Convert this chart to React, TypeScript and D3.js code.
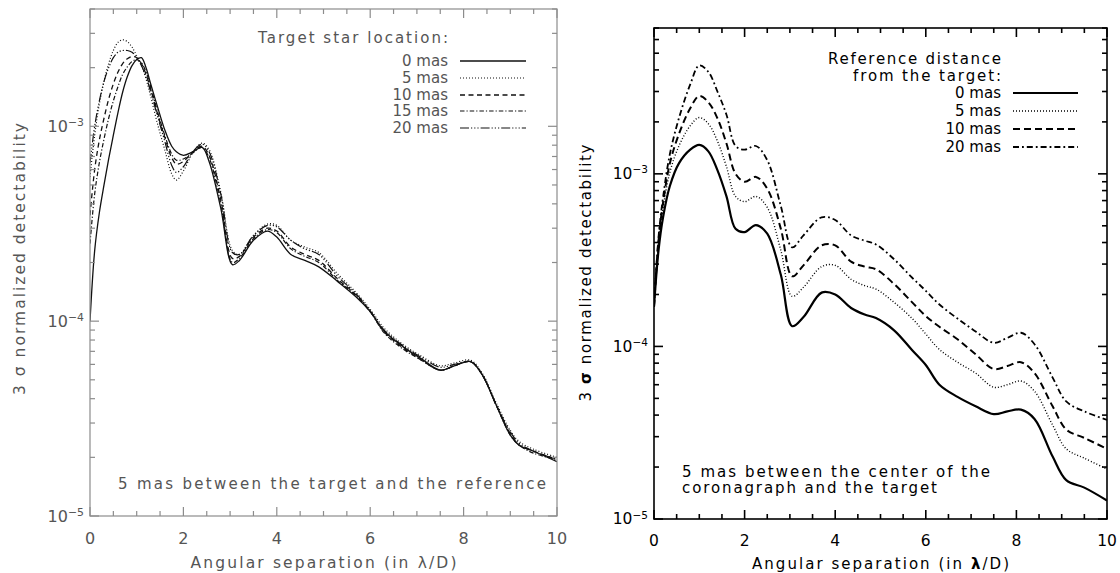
import { useEffect, useRef } from 'react';
import * as d3 from 'd3';

// Left panel: target star location varies, 5 mas between target and reference
const leftX = [0, 0.1, 0.2, 0.3, 0.4, 0.5, 0.6, 0.7, 0.8, 0.9, 1.0, 1.1, 1.2, 1.3, 1.45, 1.6, 1.75, 1.85, 2.0, 2.2, 2.4, 2.55, 2.8, 3.05, 3.2, 3.5, 3.8, 4.0, 4.3, 4.6, 4.9, 5.3, 5.7, 6.0, 6.3, 6.7, 7.1, 7.5, 7.8, 8.15, 8.4, 8.7, 9.0, 9.2, 9.5, 10];
const left0mas = [1.0e-4, 2.3e-4, 3.6e-4, 5.0e-4, 6.8e-4, 9.0e-4, 1.18e-3, 1.5e-3, 1.8e-3, 2.05e-3, 2.2e-3, 2.25e-3, 2.0e-3, 1.65e-3, 1.25e-3, 9.6e-4, 7.9e-4, 7.4e-4, 7.1e-4, 7.4e-4, 7.8e-4, 6.6e-4, 3.8e-4, 1.95e-4, 2.05e-4, 2.6e-4, 2.9e-4, 2.7e-4, 2.2e-4, 2.05e-4, 1.9e-4, 1.6e-4, 1.33e-4, 1.12e-4, 8.9e-5, 7.4e-5, 6.4e-5, 5.6e-5, 5.9e-5, 6.2e-5, 5.3e-5, 3.7e-5, 2.6e-5, 2.3e-5, 2.15e-5, 1.9e-5];
const left5mas = [5.5e-4, 9.0e-4, 1.3e-3, 1.7e-3, 2.1e-3, 2.45e-3, 2.7e-3, 2.78e-3, 2.72e-3, 2.55e-3, 2.3e-3, 2.05e-3, 1.75e-3, 1.42e-3, 1.02e-3, 7.6e-4, 5.7e-4, 5.3e-4, 5.9e-4, 7.3e-4, 8.2e-4, 7.6e-4, 4.6e-4, 2.3e-4, 2.2e-4, 2.75e-4, 3.15e-4, 3.1e-4, 2.6e-4, 2.4e-4, 2.25e-4, 1.75e-4, 1.4e-4, 1.15e-4, 9.2e-5, 7.6e-5, 6.6e-5, 5.9e-5, 6.1e-5, 6.3e-5, 5.4e-5, 3.8e-5, 2.75e-5, 2.4e-5, 2.2e-5, 2.0e-5];
const left10mas = [3.5e-4, 6.0e-4, 8.5e-4, 1.1e-3, 1.38e-3, 1.65e-3, 1.9e-3, 2.1e-3, 2.22e-3, 2.28e-3, 2.25e-3, 2.1e-3, 1.85e-3, 1.55e-3, 1.15e-3, 8.8e-4, 6.9e-4, 6.4e-4, 6.6e-4, 7.4e-4, 7.9e-4, 7.1e-4, 4.2e-4, 2.1e-4, 2.15e-4, 2.7e-4, 3.0e-4, 2.9e-4, 2.4e-4, 2.2e-4, 2.05e-4, 1.65e-4, 1.36e-4, 1.12e-4, 8.8e-5, 7.3e-5, 6.3e-5, 5.6e-5, 5.9e-5, 6.2e-5, 5.3e-5, 3.7e-5, 2.65e-5, 2.3e-5, 2.15e-5, 1.95e-5];
const left15mas = [2.5e-4, 4.5e-4, 6.5e-4, 8.6e-4, 1.1e-3, 1.35e-3, 1.6e-3, 1.85e-3, 2.02e-3, 2.15e-3, 2.2e-3, 2.12e-3, 1.9e-3, 1.6e-3, 1.18e-3, 9.0e-4, 7.2e-4, 6.7e-4, 6.8e-4, 7.3e-4, 7.8e-4, 6.9e-4, 4.0e-4, 2.0e-4, 2.1e-4, 2.65e-4, 2.95e-4, 2.85e-4, 2.35e-4, 2.15e-4, 2.0e-4, 1.62e-4, 1.35e-4, 1.12e-4, 8.7e-5, 7.2e-5, 6.3e-5, 5.6e-5, 5.9e-5, 6.2e-5, 5.3e-5, 3.7e-5, 2.6e-5, 2.3e-5, 2.1e-5, 1.95e-5];
const left20mas = [6.5e-4, 1.0e-3, 1.35e-3, 1.7e-3, 2.0e-3, 2.25e-3, 2.4e-3, 2.45e-3, 2.45e-3, 2.4e-3, 2.25e-3, 2.05e-3, 1.8e-3, 1.5e-3, 1.12e-3, 8.4e-4, 6.3e-4, 5.8e-4, 6.2e-4, 7.4e-4, 8.1e-4, 7.4e-4, 4.5e-4, 2.25e-4, 2.2e-4, 2.75e-4, 3.1e-4, 3.05e-4, 2.6e-4, 2.35e-4, 2.2e-4, 1.7e-4, 1.38e-4, 1.13e-4, 9.0e-5, 7.5e-5, 6.5e-5, 5.8e-5, 6.0e-5, 6.2e-5, 5.3e-5, 3.7e-5, 2.7e-5, 2.35e-5, 2.15e-5, 1.95e-5];
const leftLabels = ['0 mas', '5 mas', '10 mas', '15 mas', '20 mas'];

// Right panel: reference distance from the target varies
const rightX = [0, 0.1, 0.2, 0.35, 0.55, 0.8, 1.0, 1.2, 1.4, 1.6, 1.8, 2.0, 2.25, 2.5, 2.8, 3.05, 3.3, 3.7, 4.0, 4.35, 4.65, 4.9, 5.3, 5.7, 6.0, 6.3, 6.7, 7.1, 7.5, 7.8, 8.1, 8.4, 8.8, 9.1, 9.5, 10];
const right0mas = [1.7e-4, 3.6e-4, 5.6e-4, 8.5e-4, 1.15e-3, 1.38e-3, 1.47e-3, 1.35e-3, 1.05e-3, 7.4e-4, 4.8e-4, 4.6e-4, 5.05e-4, 4.5e-4, 2.6e-4, 1.31e-4, 1.48e-4, 2.05e-4, 2.0e-4, 1.67e-4, 1.53e-4, 1.46e-4, 1.24e-4, 9.5e-5, 7.8e-5, 6.0e-5, 5.1e-5, 4.5e-5, 4.05e-5, 4.2e-5, 4.3e-5, 3.8e-5, 2.3e-5, 1.68e-5, 1.52e-5, 1.28e-5];
const right5mas = [1.7e-4, 3.9e-4, 6.3e-4, 1.02e-3, 1.45e-3, 1.9e-3, 2.12e-3, 1.95e-3, 1.55e-3, 1.1e-3, 7.4e-4, 6.9e-4, 7.4e-4, 6.4e-4, 3.6e-4, 1.95e-4, 2.2e-4, 2.9e-4, 2.95e-4, 2.45e-4, 2.25e-4, 2.15e-4, 1.8e-4, 1.45e-4, 1.18e-4, 9.6e-5, 8.1e-5, 7.0e-5, 5.8e-5, 6.0e-5, 6.3e-5, 5.5e-5, 3.5e-5, 2.55e-5, 2.25e-5, 1.95e-5];
const right10mas = [1.7e-4, 4.1e-4, 6.8e-4, 1.15e-3, 1.7e-3, 2.4e-3, 2.83e-3, 2.6e-3, 2.1e-3, 1.5e-3, 1.0e-3, 9.0e-4, 9.6e-4, 8.2e-4, 4.8e-4, 2.55e-4, 2.95e-4, 3.85e-4, 3.85e-4, 3.1e-4, 2.9e-4, 2.8e-4, 2.3e-4, 1.8e-4, 1.5e-4, 1.3e-4, 1.1e-4, 9.0e-5, 7.4e-5, 7.7e-5, 8.1e-5, 7.0e-5, 4.5e-5, 3.3e-5, 2.95e-5, 2.55e-5];
const right20mas = [1.7e-4, 4.3e-4, 7.3e-4, 1.3e-3, 2.1e-3, 3.3e-3, 4.25e-3, 3.9e-3, 3.0e-3, 2.2e-3, 1.45e-3, 1.38e-3, 1.45e-3, 1.2e-3, 6.5e-4, 3.75e-4, 4.4e-4, 5.6e-4, 5.4e-4, 4.4e-4, 4.1e-4, 3.9e-4, 3.2e-4, 2.5e-4, 2.1e-4, 1.75e-4, 1.45e-4, 1.22e-4, 1.05e-4, 1.12e-4, 1.2e-4, 1.03e-4, 6.6e-5, 4.8e-5, 4.2e-5, 3.75e-5];
const rightLabels = ['0 mas', '5 mas', '10 mas', '20 mas'];

const xMajorTicks = [0, 2, 4, 6, 8, 10];
const yDecades = [-5, -4, -3];

const FONT = 'DejaVu Sans, Verdana, sans-serif';

export default function App() {
  const svgRef = useRef(null);

  useEffect(() => {
    const svg = d3.select(svgRef.current);
    svg.selectAll('*').remove();

    // dibuja un panel completo
    const drawPanel = (p) => {
      const g = svg.append('g');
      const x = d3.scaleLinear().domain([0, 10]).range([p.left, p.right]);
      const y = d3.scaleLog().domain([1e-5, p.yMax]).range([p.bottom, p.top]);

      const clipId = 'clip-' + p.id;
      svg.append('clipPath').attr('id', clipId)
        .append('rect')
        .attr('x', p.left).attr('y', p.top)
        .attr('width', p.right - p.left).attr('height', p.bottom - p.top);

      // curves
      const line = d3.line()
        .x(d => x(d[0]))
        .y(d => y(d[1]))
        .curve(d3.curveCatmullRom.alpha(0.5));

      p.series.forEach(s => {
        g.append('path')
          .attr('clip-path', `url(#${clipId})`)
          .attr('d', line(p.xs.map((v, i) => [v, s.values[i]])))
          .attr('fill', 'none')
          .attr('stroke', p.lineColor)
          .attr('stroke-width', s.width)
          .attr('stroke-dasharray', s.dash)
          .attr('stroke-linejoin', 'round');
      });

      // frame
      g.append('rect')
        .attr('x', p.left).attr('y', p.top)
        .attr('width', p.right - p.left).attr('height', p.bottom - p.top)
        .attr('fill', 'none')
        .attr('stroke', p.axisColor)
        .attr('stroke-width', p.axisWidth);

      const ticks = g.append('g').attr('stroke', p.axisColor).attr('stroke-width', p.axisWidth);
      const xMinor = d3.range(0, 10.01, 0.5).filter(v => v % 2 !== 0);
      const addXTick = (v, len) => {
        ticks.append('line').attr('x1', x(v)).attr('x2', x(v)).attr('y1', p.bottom).attr('y2', p.bottom - len);
        ticks.append('line').attr('x1', x(v)).attr('x2', x(v)).attr('y1', p.top).attr('y2', p.top + len);
      };
      xMajorTicks.forEach(v => addXTick(v, 9));
      xMinor.forEach(v => addXTick(v, 5));

      const addYTick = (v, len) => {
        ticks.append('line').attr('x1', p.left).attr('x2', p.left + len).attr('y1', y(v)).attr('y2', y(v));
        ticks.append('line').attr('x1', p.right).attr('x2', p.right - len).attr('y1', y(v)).attr('y2', y(v));
      };
      yDecades.forEach(d => {
        addYTick(Math.pow(10, d), 9);
        for (let k = 2; k <= 9; k++) {
          const v = k * Math.pow(10, d);
          if (v <= p.yMax) addYTick(v, 5);
        }
      });

      const txt = g.append('g')
        .attr('font-family', FONT)
        .attr('fill', p.textColor);

      // x tick labels
      xMajorTicks.forEach(v => {
        txt.append('text')
          .attr('x', x(v)).attr('y', p.xLabelY)
          .attr('text-anchor', 'middle')
          .attr('font-size', p.tickFont)
          .text(v);
      });

      // y tick labels 10^n
      yDecades.forEach(d => {
        const t = txt.append('text')
          .attr('x', p.left - 6).attr('y', y(Math.pow(10, d)))
          .attr('dy', '0.35em')
          .attr('text-anchor', 'end')
          .attr('font-size', p.tickFont);
        t.append('tspan').text('10');
        t.append('tspan').attr('dy', '-0.55em').attr('font-size', '0.68em').text('\u2212' + (-d));
      });

      // x title
      const xt = txt.append('text')
        .attr('x', (p.left + p.right) / 2).attr('y', p.xTitleY)
        .attr('text-anchor', 'middle')
        .attr('font-size', p.titleFont)
        .attr('textLength', p.xTitleLen)
        .attr('lengthAdjust', 'spacing');
      xt.append('tspan').text('Angular separation (in ');
      xt.append('tspan').attr('font-weight', p.boldGreek ? 'bold' : 'normal').text('\u03bb');
      xt.append('tspan').text('/D)');

      // y title
      const yt = txt.append('text')
        .attr('transform', `translate(${p.yTitleX},${p.yTitleY}) rotate(-90)`)
        .attr('text-anchor', 'middle')
        .attr('font-size', p.titleFont)
        .attr('textLength', p.yTitleLen)
        .attr('lengthAdjust', 'spacing');
      yt.append('tspan').text('3 ');
      yt.append('tspan').attr('font-weight', p.boldGreek ? 'bold' : 'normal').text('\u03c3');
      yt.append('tspan').text(' normalized detectability');

      // legend
      p.legendHead.forEach((h, i) => {
        txt.append('text')
          .attr('x', p.legendTextX).attr('y', h.y)
          .attr('text-anchor', 'end')
          .attr('font-size', p.legendFont)
          .attr('textLength', h.len)
          .attr('lengthAdjust', 'spacing')
          .text(h.text);
      });
      p.series.forEach((s, i) => {
        const by = p.legendRowY[i];
        txt.append('text')
          .attr('x', p.legendTextX).attr('y', by)
          .attr('text-anchor', 'end')
          .attr('font-size', p.legendFont)
          .text(s.label);
        g.append('line')
          .attr('x1', p.legendLineX[0]).attr('x2', p.legendLineX[1])
          .attr('y1', by - 5).attr('y2', by - 5)
          .attr('stroke', p.lineColor)
          .attr('stroke-width', s.width)
          .attr('stroke-dasharray', s.dash);
      });

      // annotation
      p.note.forEach(n => {
        txt.append('text')
          .attr('x', n.x).attr('y', n.y)
          .attr('font-size', p.legendFont)
          .attr('textLength', n.len)
          .attr('lengthAdjust', 'spacing')
          .text(n.text);
      });
    };

    const leftStyles = [
      { dash: null, width: 1.3 },
      { dash: '1,2', width: 1.2 },
      { dash: '5,3.5', width: 1.3 },
      { dash: '4.5,2,1.2,2', width: 1.2 },
      { dash: '9,2,1.2,2,1.2,2,1.2,2', width: 1.2 },
    ];
    const leftValues = [left0mas, left5mas, left10mas, left15mas, left20mas];

    drawPanel({
      id: 'left',
      left: 90, right: 557, top: 9, bottom: 516,
      yMax: 4e-3,
      xs: leftX,
      series: leftValues.map((v, i) => ({ label: leftLabels[i], values: v, ...leftStyles[i] })),
      lineColor: '#111',
      axisColor: '#8c8c8c',
      axisWidth: 1.2,
      textColor: '#555',
      tickFont: 16,
      titleFont: 15.5,
      legendFont: 15,
      boldGreek: false,
      xLabelY: 544,
      xTitleY: 568,
      xTitleLen: 266,
      yTitleX: 25,
      yTitleY: 259,
      yTitleLen: 272,
      legendTextX: 448,
      legendHead: [{ text: 'Target star location:', y: 43, len: 190 }],
      legendRowY: [66, 83, 100, 116, 133],
      legendLineX: [460, 526],
      note: [{ text: '5 mas between the target and the reference', x: 118, y: 489, len: 428 }],
    });

    const rightStyles = [
      { dash: null, width: 2.2 },
      { dash: '1,2', width: 1.4 },
      { dash: '7,4', width: 2 },
      { dash: '6,3,1.8,3', width: 1.8 },
    ];
    const rightValues = [right0mas, right5mas, right10mas, right20mas];

    drawPanel({
      id: 'right',
      left: 654, right: 1107, top: 28, bottom: 519,
      yMax: 7e-3,
      xs: rightX,
      series: rightValues.map((v, i) => ({ label: rightLabels[i], values: v, ...rightStyles[i] })),
      lineColor: '#000',
      axisColor: '#000',
      axisWidth: 1.6,
      textColor: '#000',
      tickFont: 15.5,
      titleFont: 15,
      legendFont: 15,
      boldGreek: true,
      xLabelY: 546,
      xTitleY: 569,
      xTitleLen: 257,
      yTitleX: 591,
      yTitleY: 273,
      yTitleLen: 257,
      legendTextX: 1001,
      legendHead: [
        { text: 'Reference distance', y: 64, len: 173 },
        { text: 'from the target:', y: 81, len: 148 },
      ],
      legendRowY: [98, 116, 134, 152],
      legendLineX: [1013, 1078],
      note: [
        { text: '5 mas between the center of the', x: 682, y: 477, len: 308 },
        { text: 'coronagraph and the target', x: 682, y: 493, len: 255 },
      ],
    });
  }, []);

  return (
    <svg
      ref={svgRef}
      width={1120}
      height={573}
      style={{ position: 'absolute', left: 0, top: 0, background: '#fff' }}
    />
  );
}
